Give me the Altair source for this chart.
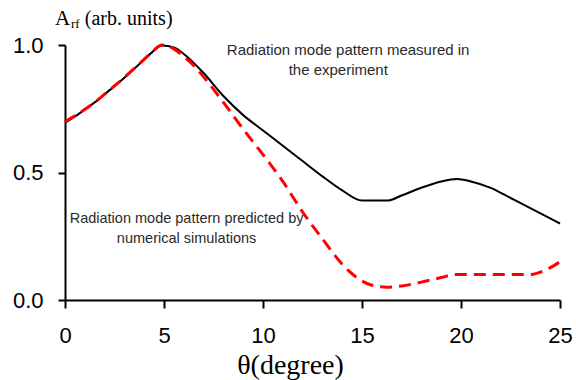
import altair as alt
import pandas as pd

# Measured (black solid)
meas_x = [0, 0.75, 1.5, 2.27, 3, 3.5, 4, 4.4, 4.9, 5.5, 6, 7, 8, 9, 10, 11, 12, 13, 14, 15, 16.3, 17, 18, 19, 19.8, 20.5, 21.5, 22.5, 23.5, 25]
meas_y = [0.695, 0.733, 0.775, 0.824, 0.872, 0.907, 0.943, 0.972, 0.998, 0.99, 0.965, 0.89, 0.80, 0.725, 0.665, 0.605, 0.545, 0.485, 0.43, 0.39, 0.39, 0.41, 0.44, 0.465, 0.475, 0.465, 0.44, 0.40, 0.36, 0.30]

# Simulated (red dashed)
sim_x = [0, 0.75, 1.5, 2.27, 3, 3.5, 4, 4.4, 4.9, 5.5, 6, 6.5, 7, 8, 9, 10, 11, 12, 13, 14, 14.7, 15.5, 16.3, 17, 18, 19, 19.7, 23.5, 24.2, 25]
sim_y = [0.70, 0.735, 0.775, 0.825, 0.873, 0.908, 0.944, 0.973, 1.0, 0.985, 0.955, 0.92, 0.875, 0.775, 0.67, 0.57, 0.465, 0.345, 0.24, 0.14, 0.09, 0.058, 0.05, 0.055, 0.07, 0.088, 0.10, 0.10, 0.115, 0.15]

ann_text = ["Radiation mode pattern measured in", "the experiment",
            "Radiation mode pattern predicted by", "numerical simulations"]
ann_x = [14.3, 13.8, 6.14, 6.14]
ann_y = [0.98, 0.902, 0.318, 0.24]
ann_size = [15, 15, 14.5, 14.5]

x_ticks = [0, 5, 10, 15, 20, 25]
y_ticks = [0.0, 0.5, 1.0]

meas = pd.DataFrame({"theta": meas_x, "A": meas_y})
sim = pd.DataFrame({"theta": sim_x, "A": sim_y})
ann = pd.DataFrame({"theta": ann_x, "A": ann_y, "t": ann_text, "s": ann_size})

xs = alt.Scale(domain=[0, 25], nice=False, zero=False)
ys = alt.Scale(domain=[0, 1], nice=False)

xax = alt.Axis(values=x_ticks, title="θ(degree)", grid=False, labelFont="Liberation Sans",
               labelFontSize=22, labelColor="black", labelPadding=17, tickSize=8, tickWidth=2,
               tickColor="black", domainColor="black", domainWidth=2,
               titleFont="Liberation Serif", titleFontSize=28, titleFontWeight="normal",
               titleColor="black", titleX=225, titleY=73, titleBaseline="alphabetic",
               titleAlign="center", labelFlush=False)
yax = alt.Axis(values=y_ticks, format=".1f", title=None, grid=False, labelFont="Liberation Sans",
               labelFontSize=22, labelColor="black", labelPadding=15, tickSize=7, tickWidth=2,
               tickColor="black", domainColor="black", domainWidth=2)

base_x = alt.X("theta:Q", scale=xs, axis=xax)
base_y = alt.Y("A:Q", scale=ys, axis=yax)

l_meas = alt.Chart(meas).mark_line(color="black", strokeWidth=2, interpolate="monotone").encode(x=base_x, y=base_y)
l_sim = alt.Chart(sim).mark_line(color="#ff0000", strokeWidth=3, strokeDash=[12, 7], interpolate="monotone").encode(x="theta:Q", y="A:Q")

t_ann = alt.Chart(ann).mark_text(font="Liberation Sans", color="#2a2a2a", align="center", baseline="middle").encode(
    x="theta:Q", y="A:Q", text="t:N", size=alt.Size("s:Q", scale=None, legend=None))

ytitle = pd.DataFrame({"theta": [-0.5, 0.3, 1.0], "A": [1.078, 1.066, 1.078], "t": ["A", "rf", "(arb. units)"]})
t_y1 = alt.Chart(ytitle.iloc[[0]]).mark_text(font="Liberation Serif", fontSize=21, color="black", align="left", baseline="alphabetic").encode(x="theta:Q", y="A:Q", text="t:N")
t_y2 = alt.Chart(ytitle.iloc[[1]]).mark_text(font="Liberation Serif", fontSize=13, color="black", align="left", baseline="alphabetic").encode(x="theta:Q", y="A:Q", text="t:N")
t_y3 = alt.Chart(ytitle.iloc[[2]]).mark_text(font="Liberation Serif", fontSize=20, color="black", align="left", baseline="alphabetic").encode(x="theta:Q", y="A:Q", text="t:N")

chart = alt.layer(l_meas, l_sim, t_ann, t_y1, t_y2, t_y3).properties(
    width=495, height=255,
    autosize=alt.AutoSizeParams(type="none"),
    padding={"left": 65, "top": 45, "right": 16, "bottom": 80},
    background="white",
).configure_view(stroke=None)

chart.save("out.html", embed_options={"renderer": "svg", "actions": False})
